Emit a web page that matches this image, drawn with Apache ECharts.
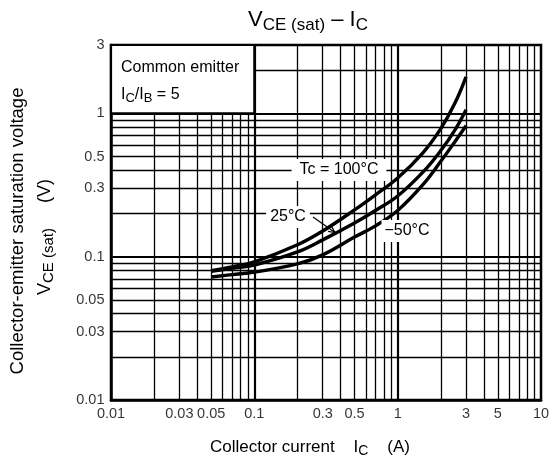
<!DOCTYPE html>
<html><head><meta charset="utf-8">
<script src="https://cdn.jsdelivr.net/npm/echarts@6/dist/echarts.min.js"></script>
<style>html,body{margin:0;padding:0;background:#fff}#c{width:553px;height:470px}</style>
</head><body><div id="c"></div>
<script>
// ---- data ----
const icValues = [0.05, 0.07, 0.1, 0.2, 0.3, 0.5, 0.7, 1, 1.5, 2, 2.5, 3];
const vce100 = [0.080, 0.085, 0.092, 0.121, 0.151, 0.212, 0.270, 0.354, 0.531, 0.783, 1.17, 1.80];
const vce25 = [0.079, 0.083, 0.0875, 0.108, 0.131, 0.172, 0.210, 0.265, 0.389, 0.55, 0.76, 1.06];
const vceM50 = [0.0722, 0.075, 0.078, 0.089, 0.103, 0.137, 0.164, 0.210, 0.318, 0.463, 0.632, 0.82];
const xTickLabels = [0.01, 0.03, 0.05, 0.1, 0.3, 0.5, 1, 3, 5, 10];
const yTickLabels = [0.01, 0.03, 0.05, 0.1, 0.3, 0.5, 1, 3];
const xGridMinor = [0.02,0.03,0.04,0.05,0.06,0.07,0.08,0.09,0.2,0.3,0.4,0.5,0.6,0.7,0.8,0.9,2,3,4,5,6,7,8,9];
const xGridMajor = [0.1, 1];
const yGridMinor = [0.02,0.03,0.04,0.05,0.06,0.07,0.08,0.09,0.2,0.3,0.4,0.5,0.6,0.7,0.8,0.9,2];
const yGridMajor = [0.1, 1];
const xMin = 0.01, xMax = 10, yMin = 0.01, yMax = 3;
const boxRange = [[0.01, 1], [0.1, 3]];

const FONT = '"Liberation Sans", Arial, sans-serif';
const chart = echarts.init(document.getElementById('c'), null, {renderer: 'canvas'});

function curve(name, ys) {
  return {
    name: name, type: 'line', smooth: 0.4, showSymbol: false, symbol: 'none', z: 5,
    lineStyle: {color: '#000', width: 3.4}, silent: true,
    data: icValues.map((x, i) => [x, ys[i]])
  };
}
function gridLines(xs, ys, width, z) {
  return {
    type: 'line', data: [], silent: true, z: z,
    markLine: {
      z: z, silent: true, symbol: ['none', 'none'], animation: false,
      label: {show: false}, emphasis: {disabled: true},
      lineStyle: {color: '#000', width: width, type: 'solid', opacity: 1},
      data: xs.map(v => ({xAxis: v})).concat(ys.map(v => ({yAxis: v})))
    }
  };
}
const fmt = v => String(+v.toPrecision(6));
const sub = (size, lh) => ({fontSize: size, fontFamily: FONT, lineHeight: lh, verticalAlign: 'bottom'});

const option = {
  animation: false,
  backgroundColor: '#fff',
  grid: {left: 111, top: 45, width: 430, height: 355, show: true, borderColor: '#000', borderWidth: 2.5, backgroundColor: 'transparent'},
  xAxis: {
    type: 'log', logBase: 10, min: xMin, max: xMax,
    axisLine: {show: true, lineStyle: {color: '#000', width: 2.5}},
    axisTick: {show: false}, axisLabel: {show: false}, splitLine: {show: false}, minorTick: {show: false}
  },
  yAxis: {
    type: 'log', logBase: 10, min: yMin, max: yMax,
    axisLine: {show: true, lineStyle: {color: '#000', width: 2.5}},
    axisTick: {show: false}, axisLabel: {show: false}, splitLine: {show: false}, minorTick: {show: false}
  },
  series: [
    gridLines(xGridMinor, yGridMinor, 1.3, 1),
    gridLines(xGridMajor, yGridMajor, 2.2, 2),
    {
      type: 'custom', silent: true, z: 3, clip: false,
      renderItem: function (params, api) {
        const p0 = api.coord([boxRange[0][0], boxRange[1][1]]);
        const p1 = api.coord([boxRange[1][0], boxRange[0][1]]);
        return {type: 'rect', shape: {x: p0[0], y: p0[1], width: p1[0] - p0[0], height: p1[1] - p0[1]},
          style: {fill: '#fff', stroke: '#000', lineWidth: 2.2}};
      },
      data: [[boxRange[0][0], boxRange[0][1]]]
    },
    curve('100', vce100),
    curve('25', vce25),
    curve('-50', vceM50),
    {
      type: 'scatter', silent: true, z: 6, symbolSize: 1,
      itemStyle: {color: 'transparent'},
      label: {show: true, position: 'bottom', distance: 6, color: '#000', fontSize: 14.5, fontFamily: FONT,
        formatter: p => fmt(xTickLabels[p.dataIndex])},
      data: xTickLabels.map(v => [v, yMin])
    },
    {
      type: 'scatter', silent: true, z: 6, symbolSize: 1,
      itemStyle: {color: 'transparent'},
      label: {show: true, position: 'left', distance: 6, color: '#000', fontSize: 14.5, fontFamily: FONT,
        formatter: p => fmt(yTickLabels[p.dataIndex])},
      data: yTickLabels.map(v => [xMin, v])
    }
  ],
  graphic: [
    {type: 'text', x: 308, y: 20, z: 10, style: {
      text: '{m|V}{s|CE (sat)}{m| – I}{s|C}', textAlign: 'center', textVerticalAlign: 'middle', fill: '#000',
      rich: {m: {fontSize: 22, fontFamily: FONT, lineHeight: 28}, s: sub(17, 17)}
    }},
    {type: 'text', x: 121, y: 68, z: 10, style: {
      text: 'Common emitter', fontSize: 16, fontFamily: FONT, fill: '#000', textVerticalAlign: 'middle'
    }},
    {type: 'text', x: 121, y: 95, z: 10, style: {
      text: '{m|I}{s|C}{m|/I}{s|B}{m| = 5}', textVerticalAlign: 'middle', fill: '#000',
      rich: {m: {fontSize: 16, fontFamily: FONT, lineHeight: 20}, s: sub(13, 13)}
    }},
    {type: 'text', x: 339, y: 170, z: 10, style: {
      text: 'Tc = 100°C', fontSize: 16, fontFamily: FONT, fill: '#000', textAlign: 'center', textVerticalAlign: 'middle',
      backgroundColor: '#fff', padding: [3, 8]
    }},
    {type: 'text', x: 288, y: 217, z: 10, style: {
      text: '25°C', fontSize: 16, fontFamily: FONT, fill: '#000', textAlign: 'center', textVerticalAlign: 'middle',
      backgroundColor: '#fff', padding: [3, 4]
    }},
    {type: 'text', x: 407, y: 231, z: 10, style: {
      text: '−50°C', fontSize: 16, fontFamily: FONT, fill: '#000', textAlign: 'center', textVerticalAlign: 'middle',
      backgroundColor: '#fff', padding: [3, 3]
    }},
    {type: 'line', z: 10, shape: {x1: 313, y1: 217, x2: 335, y2: 232.5}, style: {stroke: '#000', lineWidth: 1.2}},
    {type: 'polyline', z: 10, shape: {points: [[331.5, 226.4], [335, 232.5], [328.1, 231.3]]}, style: {stroke: '#000', lineWidth: 1.2, fill: null}},
    {type: 'text', x: 310, y: 447, z: 10, style: {
      text: '{m|Collector current    I}{s|C}{m|    (A)}', textAlign: 'center', textVerticalAlign: 'middle', fill: '#000',
      rich: {m: {fontSize: 17, fontFamily: FONT, lineHeight: 22}, s: sub(14, 14)}
    }},
    {type: 'text', x: 18, y: 231, z: 10, rotation: Math.PI / 2, style: {
      text: 'Collector-emitter saturation voltage', fontSize: 18.5, fontFamily: FONT, fill: '#000',
      textAlign: 'center', textVerticalAlign: 'middle'
    }},
    {type: 'text', x: 45, y: 237, z: 10, rotation: Math.PI / 2, style: {
      text: '{m|V}{s|CE (sat)}{m|     (V)}', textAlign: 'center', textVerticalAlign: 'middle', fill: '#000',
      rich: {m: {fontSize: 18, fontFamily: FONT, lineHeight: 22}, s: sub(15, 15)}
    }}
  ]
};
chart.setOption(option);
</script>
</body></html>
